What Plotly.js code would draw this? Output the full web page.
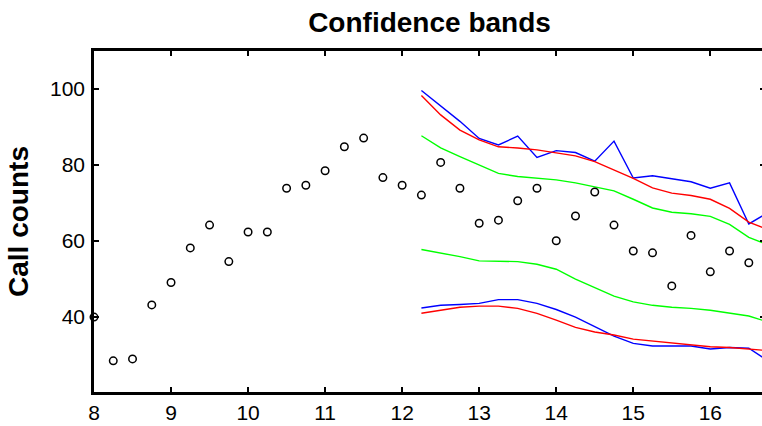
<!DOCTYPE html>
<html>
<head>
<meta charset="utf-8">
<script src="https://cdn.plot.ly/plotly-3.0.1.min.js"></script>
<style>
html,body{margin:0;padding:0;overflow:hidden;background:#fff;}
#chart{width:768px;height:426px;}
</style>
</head>
<body>
<div id="chart"></div>
<script>
// Observed call counts
const obsX = [8, 8.25, 8.5, 8.75, 9, 9.25, 9.5, 9.75, 10, 10.25, 10.5, 10.75, 11, 11.25, 11.5, 11.75,
              12, 12.25, 12.5, 12.75, 13, 13.25, 13.5, 13.75, 14, 14.25, 14.5, 14.75, 15, 15.25,
              15.5, 15.75, 16, 16.25, 16.5];
const obsY = [40, 28.5, 29.0, 43.2, 49.1, 58.2, 64.2, 54.6, 62.4, 62.4, 73.9, 74.7, 78.5, 84.8, 87.1, 76.7,
              74.7, 72.1, 80.7, 73.9, 64.7, 65.5, 70.6, 73.9, 60.1, 66.6, 72.9, 64.2, 57.4, 56.9,
              48.2, 61.5, 51.9, 57.4, 54.3];

// Forecast horizon for the bands
const bandX = [12.25, 12.5, 12.75, 13, 13.25, 13.5, 13.75, 14, 14.25, 14.5, 14.75, 15, 15.25, 15.5,
               15.75, 16, 16.25, 16.5, 16.75];
const blueUpper = [99.6, 95.5, 91.5, 87.0, 85.3, 87.6, 82.0, 83.8, 83.3, 81.0, 86.3, 76.6, 77.2, 76.4,
                   75.6, 73.9, 75.3, 64.5, 67.5];
const blueLower = [42.4, 43.1, 43.3, 43.6, 44.6, 44.6, 43.6, 42.0, 40.0, 37.5, 35.0, 33.1, 32.4, 32.4,
                   32.4, 31.6, 32.0, 31.8, 28.5];
const redUpper  = [98.3, 93.2, 89.2, 86.6, 84.8, 84.5, 84.0, 83.1, 82.4, 80.9, 78.7, 76.5, 74.0, 72.6,
                   72.0, 71.0, 68.6, 65.0, 63.0];
const redLower  = [41.0, 41.8, 42.6, 42.9, 42.9, 42.3, 41.0, 39.2, 37.3, 36.1, 35.3, 34.2, 33.7, 33.1,
                   32.7, 32.2, 32.0, 31.5, 31.2];
const greenUpper = [87.7, 84.5, 82.2, 80.0, 77.8, 77.0, 76.6, 76.1, 75.3, 74.3, 73.2, 71.0, 68.7, 67.6,
                    67.2, 66.5, 64.4, 61.0, 59.0];
const greenLower = [57.8, 56.9, 55.9, 54.8, 54.7, 54.6, 53.9, 52.6, 50.0, 47.8, 45.5, 44.0, 43.1, 42.6,
                    42.3, 41.8, 41.1, 40.3, 38.7];

const xTicks = [8, 9, 10, 11, 12, 13, 14, 15, 16];
const yTicks = [40, 60, 80, 100];

const lineW = 1.4;
const traces = [
  {x: bandX, y: blueUpper, mode: 'lines', line: {color: '#0000ff', width: lineW}, name: 'blue upper'},
  {x: bandX, y: blueLower, mode: 'lines', line: {color: '#0000ff', width: lineW}, name: 'blue lower'},
  {x: bandX, y: redUpper, mode: 'lines', line: {color: '#ff0000', width: lineW}, name: 'red upper'},
  {x: bandX, y: redLower, mode: 'lines', line: {color: '#ff0000', width: lineW}, name: 'red lower'},
  {x: bandX, y: greenUpper, mode: 'lines', line: {color: '#00ff00', width: lineW}, name: 'green upper'},
  {x: bandX, y: greenLower, mode: 'lines', line: {color: '#00ff00', width: lineW}, name: 'green lower'},
  {x: obsX, y: obsY, mode: 'markers', name: 'observed',
   marker: {symbol: 'circle-open', size: 7.5, color: '#000', line: {color: '#000', width: 1.5}},
   cliponaxis: false}
];

const axisCommon = {
  showgrid: false, zeroline: false, showline: true, linecolor: '#000', linewidth: 2.8,
  mirror: 'allticks', ticks: 'inside', ticklen: 5, tickwidth: 2, tickcolor: '#000',
  tickfont: {family: 'Liberation Sans, Arial, sans-serif', size: 21, color: '#000'}
};

const layout = {
  width: 768, height: 426,
  margin: {l: 94, r: 3, t: 51, b: 34},
  paper_bgcolor: '#fff', plot_bgcolor: '#fff',
  showlegend: false,
  title: {text: 'Confidence bands', x: 0.5, xref: 'paper', xanchor: 'center',
          y: 1 - 22 / 426, yref: 'container', yanchor: 'middle',
          font: {family: 'Liberation Sans, Arial, sans-serif', size: 28, color: '#000', weight: 'bold'}},
  xaxis: Object.assign({}, axisCommon, {range: [8, 16.71], tickvals: xTicks, ticktext: xTicks.map(String),
          ticklabelstandoff: 0}),
  yaxis: Object.assign({}, axisCommon, {range: [20.3, 110], tickvals: yTicks, ticktext: yTicks.map(String),
          ticklabelstandoff: 2,
          title: {text: 'Call counts', standoff: 14,
                  font: {family: 'Liberation Sans, Arial, sans-serif', size: 28, color: '#000', weight: 'bold'}}})
};

Plotly.newPlot('chart', traces, layout, {displayModeBar: false, staticPlot: true});
</script>
</body>
</html>
